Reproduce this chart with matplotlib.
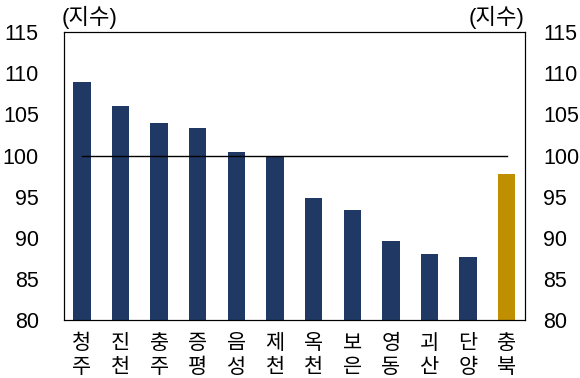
import matplotlib.pyplot as plt
import numpy as np

plt.rcParams['font.family'] = ['Liberation Sans', 'Noto Sans CJK KR', 'DejaVu Sans']

regions = ['청주', '진천', '충주', '증평', '음성', '제천', '옥천', '보은', '영동', '괴산', '단양', '충북']
index_values = [108.9, 106.0, 104.0, 103.4, 100.4, 100.0, 94.9, 93.4, 89.6, 88.1, 87.7, 97.8]
baseline = 100
y_ticks = [80, 85, 90, 95, 100, 105, 110, 115]

navy = '#1F3864'
gold = '#BF8F00'
colors = [navy] * (len(regions) - 1) + [gold]

fig = plt.figure(figsize=(5.8, 3.78), dpi=100)
ax = fig.add_axes([0.110, 0.153, 0.795, 0.762])

x = np.arange(len(regions))
ax.bar(x, index_values, width=0.45, color=colors, zorder=2)
ax.plot([x[0], x[-1]], [baseline, baseline], color='black', linewidth=1, zorder=3)

ax.set_ylim(80, 115)
ax.set_xlim(-0.47, len(regions) - 0.53)
ax.set_yticks(y_ticks)
ax.set_yticklabels([str(v) for v in y_ticks], fontsize=15.5)
ax.set_xticks(x)
ax.set_xticklabels(['\n'.join(r) for r in regions], fontsize=15, linespacing=1.3)
ax.tick_params(axis='both', length=0)
ax.tick_params(axis='y', pad=18)
ax.tick_params(axis='x', pad=10)

ax2 = ax.twinx()
ax2.set_ylim(80, 115)
ax2.set_yticks(y_ticks)
ax2.set_yticklabels([str(v) for v in y_ticks], fontsize=15.5)
ax2.tick_params(axis='y', length=0, pad=13)

for spine in list(ax.spines.values()) + list(ax2.spines.values()):
    spine.set_linewidth(0.8)
    spine.set_color('black')

fig.text(0.107, 0.955, '(지수)', fontsize=16, ha='left', va='center')
fig.text(0.905, 0.955, '(지수)', fontsize=16, ha='right', va='center')

plt.savefig('out.png', dpi=100)
plt.close()
